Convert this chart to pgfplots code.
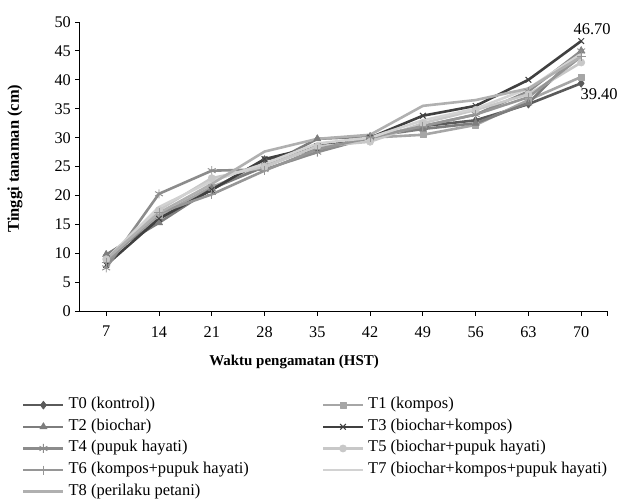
\documentclass[border=0pt]{standalone}
\usepackage{pgfplots}
\pgfplotsset{compat=1.18}
\usepackage{fontspec}
\setmainfont{Liberation Serif}
\newcommand\f{\fontsize{16.5}{18}\selectfont}
\newcommand\ft{\fontsize{16.3}{18}\selectfont}
\definecolor{c0}{RGB}{90,90,90}
\definecolor{c1}{RGB}{166,166,166}
\definecolor{c2}{RGB}{125,125,125}
\definecolor{c3}{RGB}{64,64,64}
\definecolor{c4}{RGB}{140,140,140}
\definecolor{c5}{RGB}{200,200,200}
\definecolor{c6}{RGB}{150,150,150}
\definecolor{c7}{RGB}{210,210,210}
\definecolor{c8}{RGB}{176,176,176}
\begin{document}
\begin{tikzpicture}
\begin{axis}[
    scale only axis,
    width=529pt, height=290pt,
    xmin=-0.5, xmax=9.5, ymin=0, ymax=50,
    xtick={0,...,9},
    xticklabels={7,14,21,28,35,42,49,56,63,70},
    extra x ticks={9.5}, extra x tick labels={},
    ytick={0,5,...,50},
    axis lines=left,
    axis line style={-, line width=1.2pt},
    tick align=outside,
    major tick length=4.5pt,
    tick style={black, line width=0.9pt},
    /pgf/number format/assume math mode=true,
    ticklabel style={font=\ft},
    xticklabel style={yshift=-7pt},
    yticklabel style={xshift=-1pt},
    xlabel={\textbf{Waktu pengamatan (HST)}},
    ylabel={\textbf{Tinggi tanaman (cm)}},
    xlabel style={font=\fontsize{15}{17}\selectfont, at={(axis description cs:0.406,-0.176)}, anchor=center},
    ylabel style={font=\f, at={(axis description cs:-0.123,0.528)}, anchor=center},
    clip=false,
    every axis plot/.append style={line width=2.6pt, line join=round},
    legend columns=2,
    legend cell align=left,
    legend image code/.code={\draw[mark repeat=2, mark phase=2]
        plot coordinates {(0pt,0pt) (20pt,0pt) (40pt,0pt)};},
    legend style={at={(-0.1096,-0.298)}, anchor=north west, draw=none, fill=none,
        inner sep=0pt, font=\f, row sep=6.7pt,
        nodes={inner sep=0pt, text height=11pt, text depth=4pt},
        /tikz/every odd column/.append style={column sep=4pt},
        /tikz/every even column/.append style={column sep=73pt}},
]
\addplot[c0, mark=diamond*, mark size=4pt, mark options={solid, line width=0.6pt}]
    coordinates {(0,9.6) (1,16.0) (2,21.0) (3,26.2) (4,28.0) (5,30.0) (6,32.0) (7,33.0) (8,35.8) (9,39.4)};
\addlegendentry{T0 (kontrol))}
\addplot[c1, mark=square*, mark size=3pt, mark options={solid, line width=0.6pt}]
    coordinates {(0,9.0) (1,16.5) (2,21.5) (3,25.0) (4,28.5) (5,30.0) (6,30.5) (7,32.2) (8,36.5) (9,40.5)};
\addlegendentry{T1 (kompos)}
\addplot[c2, mark=triangle*, mark size=4.2pt, mark options={solid, line width=0.6pt}]
    coordinates {(0,9.8) (1,15.3) (2,21.2) (3,25.0) (4,29.8) (5,30.2) (6,31.5) (7,32.5) (8,36.0) (9,45.0)};
\addlegendentry{T2 (biochar)}
\addplot[c3, mark=x, mark size=4pt, mark options={solid, line width=1pt}]
    coordinates {(0,8.0) (1,16.0) (2,21.0) (3,26.3) (4,28.5) (5,30.0) (6,33.8) (7,35.5) (8,40.0) (9,46.7)};
\addlegendentry{T3 (biochar+kompos)}
\addplot[c4, mark=asterisk, mark size=4.5pt, mark options={solid, line width=0.9pt}]
    coordinates {(0,7.5) (1,20.3) (2,24.3) (3,24.5) (4,27.5) (5,30.0) (6,32.0) (7,34.0) (8,38.0) (9,45.0)};
\addlegendentry{T4 (pupuk hayati)}
\addplot[c5, mark=*, mark size=3.6pt, mark options={solid, line width=0.6pt}]
    coordinates {(0,9.0) (1,17.5) (2,23.0) (3,25.0) (4,28.5) (5,29.3) (6,32.5) (7,34.8) (8,37.5) (9,43.0)};
\addlegendentry{T5 (biochar+pupuk hayati)}
\addplot[c6, mark=+, mark size=4.5pt, mark options={solid, line width=0.9pt}]
    coordinates {(0,8.5) (1,17.0) (2,20.2) (3,24.3) (4,28.0) (5,30.0) (6,32.0) (7,34.0) (8,37.0) (9,44.0)};
\addlegendentry{T6 (kompos+pupuk hayati)}
\addplot[c7, mark=none]
    coordinates {(0,9.0) (1,18.0) (2,22.5) (3,25.5) (4,29.0) (5,30.0) (6,33.0) (7,35.0) (8,38.5) (9,44.5)};
\addlegendentry{T7 (biochar+kompos+pupuk hayati)}
\addplot[c8, mark=none]
    coordinates {(0,9.0) (1,17.0) (2,22.0) (3,27.6) (4,29.8) (5,30.5) (6,35.5) (7,36.5) (8,38.5) (9,44.0)};
\addlegendentry{T8 (perilaku petani)}
\node[font=\f, xshift=11pt, yshift=12pt] at (axis cs:9,46.7) {46.70};
\node[font=\f, xshift=18pt, yshift=-11pt] at (axis cs:9,39.4) {39.40};
\end{axis}
\path (-80pt,-186pt) rectangle (541pt,312pt);
\end{tikzpicture}
\end{document}
